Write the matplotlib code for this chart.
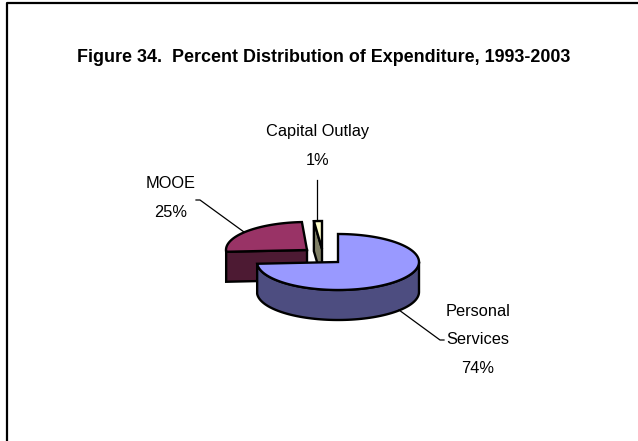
import numpy as np
import matplotlib
matplotlib.use("Agg")
import matplotlib.pyplot as plt

# Percent shares, clockwise from 12 o'clock
labels = ["Personal\nServices\n74%", "MOOE\n25%", "Capital Outlay\n1%"]
shares = [74, 25, 1]

top_colors = ["#9999FF", "#993366", "#FFFFCC"]
side_colors = ["#4D4D80", "#4D1A33", "#808066"]

# Slice layout in pixels of the 638x441 picture
centers = [(338, 262), (307, 250), (322, 249)]
RX, RY = 81, 28
DEPTH = 30
LW = 1.7
# the reference draws the thin slice a bit wider than its true angle
THIN_SPREAD = 1.6

plt.rcParams["font.family"] = ["Liberation Sans", "DejaVu Sans"]


# Rim of a slice between two clockwise angles
def rim(cx, cy, a0, a1):
    t = np.radians(np.linspace(a0, a1, 120))
    return cx + RX * np.sin(t), cy - RY * np.cos(t)


fig = plt.figure(figsize=(6.38, 4.41), dpi=100)
ax = fig.add_axes([0, 0, 1, 1])
ax.set_xlim(0, 638)
ax.set_ylim(441, 0)
ax.axis("off")

# chart frame, only top and left fall inside the picture
ax.plot([7, 7, 638], [441, 3, 3], color="black", lw=1.6)

ax.text(324, 57.5, "Figure 34.  Percent Distribution of Expenditure, 1993-2003",
        ha="center", va="center", fontsize=12.9, fontweight="bold")

angles = np.r_[0, np.cumsum(shares)] * 3.6

# Capital Outlay cut face sits behind the others
cx, cy = centers[2]
x, y = rim(cx, cy, angles[3] - (angles[3] - angles[2]) * THIN_SPREAD, angles[3])
ax.fill([cx, x[0], x[0], cx], [cy, y[0], y[0] + DEPTH, cy + DEPTH],
        fc=side_colors[2], ec="black", lw=LW, zorder=2)
ax.fill(np.r_[cx, x], np.r_[cy, y], fc=top_colors[2], ec="black", lw=LW, zorder=3)

# MOOE with its front cut face
cx, cy = centers[1]
x, y = rim(cx, cy, angles[1], angles[2])
ax.fill([x[0], cx, cx, x[0]], [y[0], cy, cy + DEPTH, y[0] + DEPTH],
        fc=side_colors[1], ec="black", lw=LW, zorder=4)
ax.fill(np.r_[cx, x], np.r_[cy, y], fc=top_colors[1], ec="black", lw=LW, zorder=5)

# Personal Services in front, wall only on the part facing us
cx, cy = centers[0]
x, y = rim(cx, cy, angles[0], angles[1])
front = np.cos(np.radians(np.linspace(angles[0], angles[1], 120))) <= 0.02
wx, wy = x[front], y[front]
ax.fill(np.r_[wx, wx[::-1]], np.r_[wy, wy[::-1] + DEPTH], fc=side_colors[0], ec="black", lw=LW, zorder=6)
ax.fill(np.r_[cx, x], np.r_[cy, y], fc=top_colors[0], ec="black", lw=LW, zorder=7)

# Leader lines and labels
ax.plot([317, 317], [180, 221], color="black", lw=0.9, zorder=1)
ax.plot([196, 200, 244], [200, 200, 232], color="black", lw=0.9, zorder=1)
ax.plot([399, 440, 444], [310, 340, 340], color="black", lw=0.9, zorder=8)

ax.text(318, 146, labels[2], ha="center", va="center", fontsize=11.8, linespacing=2.15)
ax.text(171, 198, labels[1], ha="center", va="center", fontsize=11.8, linespacing=2.15)
ax.text(478, 340, labels[0], ha="center", va="center", fontsize=11.8, linespacing=2.15)

fig.savefig("out.png", dpi=100)
